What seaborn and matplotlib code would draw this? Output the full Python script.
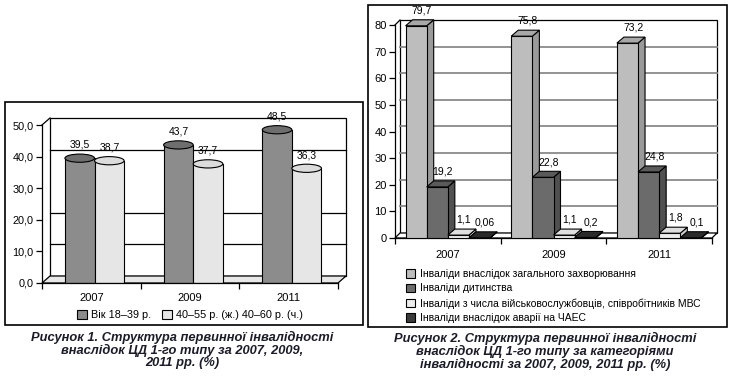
import matplotlib
matplotlib.use('Agg')
import matplotlib.pyplot as plt
import pandas as pd
import seaborn as sns
from matplotlib.patches import Polygon, Ellipse, Rectangle
from matplotlib.lines import Line2D

# data
years = ['2007', '2009', '2011']

age_labels = ['Вік 18–39 р.', '40–55 р. (ж.) 40–60 р. (ч.)']
age_young = [39.5, 43.7, 48.5]
age_older = [38.7, 37.7, 36.3]

cat_labels = ['Інваліди внаслідок загального захворювання',
              'Інваліди дитинства',
              'Інваліди з числа військовослужбовців, співробітників МВС',
              'Інваліди внаслідок аварії на ЧАЕС']
cat_general = [79.7, 75.8, 73.2]
cat_childhood = [19.2, 22.8, 24.8]
cat_military = [1.1, 1.1, 1.8]
cat_chaes = [0.06, 0.2, 0.1]

caption1 = 'Рисунок 1. Структура первинної інвалідності\nвнаслідок ЦД 1-го типу за 2007, 2009,\n2011 рр. (%)'
caption2 = 'Рисунок 2. Структура первинної інвалідності\nвнаслідок ЦД 1-го типу за категоріями\nінвалідності за 2007, 2009, 2011 рр. (%)'

plt.rcParams['font.family'] = ['Liberation Sans', 'DejaVu Sans']

W, H = 730, 377
fig = plt.figure(figsize=(W / 100, H / 100), dpi=100)


def fig_rect(x0, y0, x1, y1):
    # pixel box (top-left origin) -> figure fraction
    return [x0 / W, 1 - y1 / H, (x1 - x0) / W, (y1 - y0) / H]


def px2data(ax, dx, dy):
    pos = ax.get_position()
    xa, xb = ax.get_xlim()
    ya, yb = ax.get_ylim()
    return dx * (xb - xa) / (pos.width * W), dy * (yb - ya) / (pos.height * H)


def comma(v):
    return str(v).replace('.', ',')


def draw_frame(ax, ddx, ddy, ymax, grid, gcol, glw, floor_col):
    xl, xr = ax.get_xlim()
    kw = dict(clip_on=False, transform=ax.transData)
    ax.add_patch(Rectangle((xl + ddx, ddy), xr - xl, ymax, fc='white',
                           ec='black', lw=0.9, zorder=0.2, **kw))
    for g in grid:
        ax.add_line(Line2D([xl + ddx, xr + ddx], [g + ddy, g + ddy], color=gcol,
                           lw=glw, zorder=0.3, **kw))
    ax.add_patch(Polygon([(xl, 0), (xr, 0), (xr + ddx, ddy), (xl + ddx, ddy)],
                         fc=floor_col, ec='black', lw=0.9, zorder=0.4, **kw))
    ax.add_line(Line2D([xl, xl + ddx], [ymax, ymax + ddy], color='black', lw=0.9,
                       zorder=0.4, **kw))
    ax.patch.set_visible(False)
    for s in ['top', 'right']:
        ax.spines[s].set_visible(False)
    for s in ['left', 'bottom']:
        ax.spines[s].set_linewidth(0.9)
    ax.set_xticks([-0.5, 0.5, 1.5, 2.5], minor=True)
    ax.tick_params(axis='x', which='major', length=0)
    ax.tick_params(axis='x', which='minor', length=4, width=0.9, direction='out')
    ax.tick_params(axis='y', length=4, width=0.9, direction='out', pad=2)
    ax.set_xlabel('')
    ax.set_ylabel('')


# ---------- figure 1: cylinders ----------
fig.patches.append(Rectangle(fig_rect(5, 102, 363, 325)[:2], 358 / W, 223 / H,
                             transform=fig.transFigure, fill=False, ec='black', lw=1.2))
ax1 = fig.add_axes(fig_rect(42, 125, 338, 283))
df1 = pd.DataFrame({'year': years * 2,
                    'value': age_young + age_older,
                    'group': [age_labels[0]] * 3 + [age_labels[1]] * 3})
sns.barplot(data=df1, x='year', y='value', hue='group', hue_order=age_labels,
            palette=['#8c8c8c', '#e6e6e6'], width=0.6, edgecolor='black',
            linewidth=0.8, ax=ax1, zorder=2)
bars1 = [p for p in ax1.patches if p.get_width() > 0]
ax1.set_xlim(-0.5, 2.5)
ax1.set_ylim(0, 50)
ax1.set_yticks(range(0, 51, 10))
ax1.set_yticklabels([f'{v},0' for v in range(0, 51, 10)], fontsize=7.8)
ax1.tick_params(axis='x', labelsize=8, pad=7)
ddx1, ddy1 = px2data(ax1, 8, 7)
draw_frame(ax1, ddx1, ddy1, 50, [10, 20, 40], 'black', 0.9, '#e8e8e8')

tops1 = ['#6e6e6e', '#dcdcdc']
for i, p in enumerate(bars1):
    p.set_x(p.get_x() + ddx1 * 0.4)
    x0, w, h = p.get_x(), p.get_width(), p.get_height()
    hi = i // 3
    ax1.add_patch(Ellipse((x0 + w / 2, h), w, 2.6, fc=tops1[hi], ec='black',
                          lw=0.8, zorder=3, clip_on=False))
    ax1.text(x0 + w / 2, h + 2.6, comma(df1['value'][i]), ha='center', va='bottom',
             fontsize=7.5, clip_on=False)
sns.move_legend(ax1, 'upper center', bbox_to_anchor=(0.5, -0.11), ncol=2,
                frameon=False, title=None, fontsize=7.8, handlelength=0.9,
                handleheight=0.9, handletextpad=0.4, columnspacing=1.0)

# ---------- figure 2: 3D boxes ----------
fig.patches.append(Rectangle(fig_rect(368, 5, 727, 327)[:2], 359 / W, 322 / H,
                             transform=fig.transFigure, fill=False, ec='black', lw=1.2))
ax2 = fig.add_axes(fig_rect(395, 25, 712, 238))
df2 = pd.DataFrame({'year': years * 4,
                    'value': cat_general + cat_childhood + cat_military + cat_chaes,
                    'group': [c for c in cat_labels for _ in years]})
fronts2 = ['#bdbdbd', '#6b6b6b', '#ececec', '#3a3a3a']
sides2 = ['#9a9a9a', '#505050', '#cfcfcf', '#222222']
tops2 = ['#a8a8a8', '#5a5a5a', '#dedede', '#2a2a2a']
sns.barplot(data=df2, x='year', y='value', hue='group', hue_order=cat_labels,
            palette=fronts2, width=0.8, edgecolor='black', linewidth=0.8, ax=ax2)
bars2 = [p for p in ax2.patches if p.get_width() > 0]
ax2.set_xlim(-0.5, 2.5)
ax2.set_ylim(0, 80)
ax2.set_yticks(range(0, 81, 10))
ax2.tick_params(axis='y', labelsize=8)
ax2.tick_params(axis='x', labelsize=8, pad=9)
ddx2, ddy2 = px2data(ax2, 5, 5)
draw_frame(ax2, ddx2, ddy2, 80, [10, 20, 30, 40, 50, 60, 70], '#8a8a8a', 1.3, 'white')

bx, by = px2data(ax2, 7, 6)
for i, p in enumerate(bars2):
    hi, yi = i // 3, i % 3
    x0, w, h = p.get_x(), p.get_width(), p.get_height()
    z = 2 + yi * 10 + hi * 2
    p.set_zorder(z + 1)
    ax2.add_patch(Polygon([(x0 + w, 0), (x0 + w + bx, by), (x0 + w + bx, h + by),
                           (x0 + w, h)], fc=sides2[hi], ec='black', lw=0.8,
                          zorder=z, clip_on=False))
    ax2.add_patch(Polygon([(x0, h), (x0 + w, h), (x0 + w + bx, h + by), (x0 + bx, h + by)],
                          fc=tops2[hi], ec='black', lw=0.8, zorder=z + 1.5, clip_on=False))
    ax2.text(x0 + w / 2 + bx * 0.8, h + by + 1.6, comma(df2['value'][i]), ha='center',
             va='bottom', fontsize=7.5, zorder=40, clip_on=False)
sns.move_legend(ax2, 'upper left', bbox_to_anchor=(0.02, -0.125), ncol=1,
                frameon=False, title=None, fontsize=7.5, handlelength=0.9,
                handleheight=0.9, handletextpad=0.5, labelspacing=0.45, borderaxespad=0)

# captions
cap_kw = dict(ha='center', va='top', fontsize=9.3, fontweight='bold', style='italic',
              color='#1c1c28', linespacing=1.0)
fig.text(182 / W, 1 - 331 / H, caption1, **cap_kw)
fig.text(545 / W, 1 - 332 / H, caption2, **cap_kw)

fig.savefig('out.png', dpi=100, facecolor='white')
